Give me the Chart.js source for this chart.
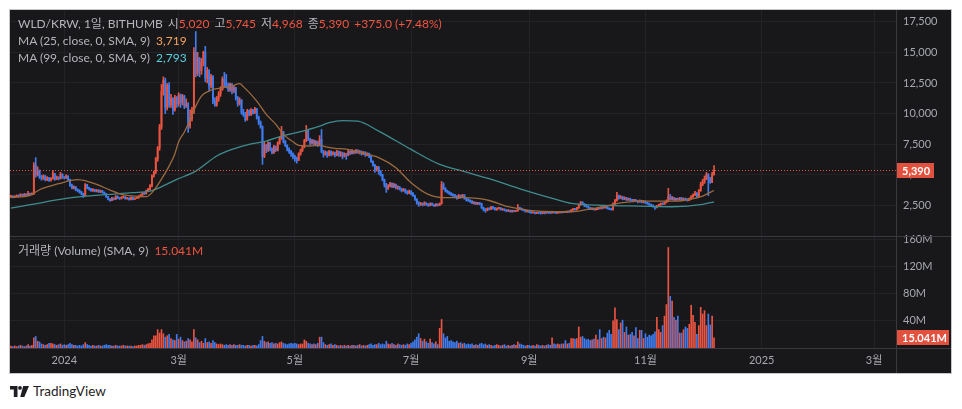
<!DOCTYPE html>
<html>
<head>
<meta charset="utf-8">
<script src="https://cdn.jsdelivr.net/npm/chart.js@4.4.1/dist/chart.umd.min.js"></script>
<style>
  body { margin: 0; background: #fff; width: 962px; height: 409px; overflow: hidden; font-family: Lato, 'Noto Sans CJK KR', sans-serif; }
  #frame { position: absolute; left: 9px; top: 9px; width: 941px; height: 363px; border: 1px solid #c6c6c8; background: #18181b; }
  #c { position: absolute; left: 0; top: 0; }
  .lg { position: absolute; left: 8px; font-size: 12px; line-height: 16px; color: #b4b5ba; white-space: nowrap; }
  .lg b { font-weight: normal; margin-left: 5px; }
  .r { color: #f0553f; }
  .o { color: #f7a35c; }
  .c { color: #5ad2e2; }
  #tv { position: absolute; left: 10px; top: 383px; font-size: 13.5px; color: #1e1e24; display: flex; align-items: center; }
  #tv svg { margin-right: 4px; }
</style>
</head>
<body>
<div id="frame">
  <canvas id="c" width="941" height="363"></canvas>
  <div class="lg" style="top:6px">WLD/KRW, 1일, BITHUMB<b>시</b><span class="r">5,020</span><b>고</b><span class="r">5,745</span><b>저</b><span class="r">4,968</span><b>종</b><span class="r">5,390</span><span class="r" style="margin-left:5px">+375.0 (+7.48%)</span></div>
  <div class="lg" style="top:23px">MA (25, close, 0, SMA, 9)<span class="o" style="margin-left:6px">3,719</span></div>
  <div class="lg" style="top:40px">MA (99, close, 0, SMA, 9)<span class="c" style="margin-left:6px">2,793</span></div>
  <div class="lg" style="top:233px">거래량 (Volume) (SMA, 9)<span class="r" style="margin-left:6px">15.041M</span></div>
</div>
<div id="tv">
  <svg width="19" height="11" viewBox="0 0 19 11"><path d="M0 0H7.5V11H3.8V3.6H0Z" fill="#1e1e24"/><circle cx="10" cy="1.9" r="1.9" fill="#1e1e24"/><path d="M13.2 0H19L14.3 11H10.2Z" fill="#1e1e24"/></svg>
  TradingView
</div>
<script>
// WLD/KRW daily candles, Bithumb, 2023-12-04 .. 2024-12-07
const firstOpen = 3200;
const closes = [
  // Dec 2023
  3250,3180,3230,3300,3260,3380,3320,3400,3350,3460,3380,3420,5800,5000,5300,4850,4700,4900,4600,4750,4550,4700,5100,4650,4800,4700,5050,4800,
  // Jan
  4750,4900,4600,4150,3900,4000,3750,3700,3600,3450,3300,4200,3950,3850,3700,3800,3650,3750,3600,3700,3550,3450,3200,3000,2900,3100,3000,3250,3100,3050,3150,
  // Feb
  3200,3050,3100,2980,3150,3000,3080,3120,3250,3350,3500,3450,3700,3800,4100,4900,5200,6300,7200,8900,11800,12700,10500,12300,10700,11200,10300,11300,10800,
  // Mar
  11500,10900,11400,10600,10800,9000,9600,10200,15000,13300,14500,13500,14200,15000,12900,13500,12300,13000,11000,10700,11200,11600,12000,12800,12600,12300,12000,12400,11900,12100,11300,
  // Apr
  10800,11100,10100,9900,9500,10200,9900,10300,10100,10400,9700,9300,8900,6500,7400,7000,7600,7100,6800,7300,7000,7600,8000,8500,7700,7400,7100,6900,6700,6500,
  // May
  6300,6200,6700,7000,7300,7800,8600,7900,7600,7800,7500,7700,7400,7900,6900,6700,6800,6600,6900,6700,6800,6600,6900,6600,6800,6500,6700,6600,6900,6750,6950,
  // Jun
  6800,7000,6850,6900,6700,6850,6600,6750,6500,6100,5800,5400,5600,5300,5000,4600,4200,3900,4100,4300,4050,4200,3950,4000,3850,3700,3800,3600,3500,3650,
  // Jul
  3500,3300,3000,2700,2600,2650,2550,2700,2600,2500,2650,2550,2450,2600,2500,2650,4200,3900,3700,3600,3500,3400,3350,3250,3100,3300,3200,3350,3100,3000,2900,
  // Aug
  2850,2700,2750,2600,2700,2650,2300,2150,2100,2250,2200,2350,2300,2150,2250,2300,2150,2200,2100,2050,2100,2000,2080,2020,2050,2300,2250,2150,2100,2000,2050,
  // Sep
  1950,1900,1920,1850,1900,1880,1850,1900,1870,1920,1900,1880,1950,1920,1880,1900,1950,1920,1970,1940,2000,1980,2100,2200,2150,2300,2550,2750,2600,2450,
  // Oct
  2400,2300,2200,2250,2150,2200,2300,2250,2350,2300,2400,2250,2200,2150,2600,2900,3300,3100,3200,3000,3150,2950,3050,2950,2900,2950,2850,2800,2900,2750,2850,
  // Nov
  2700,2650,2550,2500,2400,2350,2450,2550,2650,2600,2750,2850,3200,3000,3100,2950,3050,3000,3100,2950,3050,3000,2900,3050,3200,3350,3500,3250,3700,4200,
  // Dec 2024
  4400,4700,5000,4700,4400,5020,5390
];
const highs = [
  3320,3290,3280,3360,3350,3460,3420,3480,3450,3650,3500,3520,6000,6400,5650,5400,4950,5000,4950,4850,4800,4780,5360,5120,4900,4850,5200,5080,
  4850,5000,4920,4650,4250,4100,4050,3850,3780,3650,3500,4290,4220,4000,3900,3880,3820,3800,3780,3750,3720,3600,3480,3250,3050,3150,3120,3300,3270,3150,3220,
  3280,3230,3150,3120,3200,3180,3120,3200,3300,3400,3560,3560,3750,3900,4200,5000,5300,6420,7310,9120,12380,13000,12900,12450,12540,11570,11300,11500,11400,
  11700,11600,11570,11500,11200,10900,10300,10500,15400,16700,15000,14600,14500,15100,15490,13770,13600,13200,13100,11300,11400,11800,12200,13000,13360,13200,12500,12500,12450,12300,12150,
  11400,11300,11150,10340,10100,10350,10300,10400,10350,10500,10420,9800,9400,9000,7730,7500,7700,7650,7200,7400,7350,7700,8100,8950,8550,7800,7450,7200,7000,6800,
  6600,6450,6800,7100,7400,7900,9030,8650,8000,7900,7850,7800,7750,8200,8700,7000,6950,6900,7000,6950,6900,6850,7000,6950,6900,6850,6800,6750,7000,6950,7050,
  7000,7070,7050,6980,6950,6900,6880,6800,6780,6550,6150,5850,5700,5690,5350,5050,4650,4300,4200,4380,4350,4300,4250,4100,4050,3900,3900,3850,3700,3750,
  3700,3550,3350,3050,2800,2750,2700,2800,2720,2650,2700,2700,2600,2650,2620,2700,4460,4350,3950,3750,3650,3550,3450,3400,3300,3400,3350,3400,3380,3150,3050,
  2950,2900,2800,2780,2750,2720,2680,2350,2250,2300,2300,2420,2400,2320,2300,2350,2320,2250,2220,2150,2150,2120,2120,2100,2100,2580,2350,2280,2200,2150,2100,
  2080,2000,1980,1950,1930,1950,1920,1940,1920,1960,1950,1930,2000,1980,1950,1950,2000,1980,2020,2000,2050,2050,2150,2250,2250,2350,2600,2830,2800,2650,
  2550,2450,2350,2300,2280,2250,2350,2350,2400,2380,2450,2420,2300,2250,2700,3000,3560,3350,3300,3250,3200,3150,3100,3100,3000,3000,2980,2900,2950,2920,2900,
  2870,2750,2700,2600,2550,2450,2500,2600,2700,2700,2800,2950,3890,3400,3250,3150,3100,3100,3150,3150,3100,3100,3050,3100,3300,3450,3640,3550,3800,4400,
  4620,4900,5190,5100,4800,5200,5745
];
const lows = [
  3150,3120,3140,3200,3190,3240,3260,3290,3300,3320,3330,3350,3400,4800,4900,4700,4550,4620,4500,4520,4460,4480,4650,4550,4600,4580,4650,4700,
  4650,4700,4500,4050,3850,3850,3700,3600,3500,3350,3150,3280,3850,3750,3650,3650,3600,3600,3550,3550,3500,3400,3150,2950,2830,2880,2950,2980,3050,2980,3020,
  3100,3000,3000,2920,2950,2950,2980,3050,3080,3200,3300,3380,3420,3650,3750,4000,4800,5100,6100,7000,8700,11500,10000,10300,10500,10500,9930,10200,10500,
  10600,10500,10700,10400,10500,8460,8800,9400,10000,13000,13100,13000,13200,13900,12600,12500,11820,12100,10800,10590,10600,11000,11400,11900,12130,12100,11800,11800,11600,11700,11100,
  10600,10700,9950,9770,9360,9450,9800,9850,9950,10000,9550,9100,8800,5850,6400,6800,6900,6950,6700,6750,6900,6950,7500,7900,7600,7300,6950,6750,6500,6300,
  6100,5950,6150,6600,6900,7200,7700,7800,7450,7500,7400,7400,7300,7350,6800,6450,6600,6420,6550,6550,6600,6450,6550,6500,6500,6300,6450,6260,6550,6650,6700,
  6700,6750,6750,6700,6600,6650,6500,6550,6400,6000,5700,5200,5300,5030,4900,4500,4000,3560,3800,4000,3950,3950,3850,3810,3750,3600,3650,3500,3400,3450,
  3350,3240,2900,2600,2420,2500,2450,2500,2500,2420,2450,2480,2420,2430,2450,2480,2600,3800,3600,3500,3400,3300,3240,3150,3000,3050,3100,3150,3000,2850,2830,
  2750,2650,2600,2580,2580,2550,2250,2050,1930,2050,2120,2150,2200,2100,2100,2200,2100,2100,2050,1980,2000,1950,1950,1970,1990,2030,2150,2100,2050,1950,1950,
  1900,1850,1860,1800,1820,1830,1780,1820,1800,1850,1850,1820,1860,1870,1830,1850,1880,1870,1900,1900,1920,1940,1960,2080,2100,2120,2250,2500,2550,2400,
  2350,2250,2150,2150,2100,2100,2150,2200,2200,2250,2280,2200,2150,2100,2120,2550,2850,3000,3050,2950,2980,2900,2900,2850,2830,2850,2800,2700,2750,2700,2700,
  2650,2580,2500,2420,2350,2170,2300,2420,2500,2550,2580,2700,2800,2950,2950,2900,2900,2920,2950,2900,2900,2950,2850,2880,3000,3150,3300,3150,3200,3650,
  4100,4300,4600,3300,4300,4350,4968
];
// volume in millions of WLD
const volumes = [
  3,2,3,2,3,4,3,2,3,5,3,4,15,17,10,9,6,5,4,5,7,7,6,5,4,5,6,4,
  5,4,5,7,5,4,4,3,4,3,5,8,5,4,3,4,3,3,4,3,3,4,5,4,4,3,3,4,3,3,3,
  4,3,3,3,3,2,3,3,4,4,5,4,5,6,7,12,18,18,27,22,27,21,16,18,20,14,12,11,20,
  13,16,11,9,10,14,12,9,27,15,12,8,10,7,14,8,9,7,11,8,6,5,6,5,4,5,4,5,4,5,4,
  4,5,4,4,3,4,4,3,4,4,3,5,11,17,10,8,9,7,8,6,7,6,8,9,7,6,5,6,7,6,
  7,6,5,6,6,12,10,7,6,5,6,5,7,16,16,8,5,4,5,6,4,5,4,3,4,3,4,3,4,3,4,
  4,3,4,5,3,4,3,4,5,6,4,5,5,7,5,6,5,10,6,5,7,5,4,6,5,4,5,4,6,5,
  7,9,12,16,21,14,10,13,9,7,13,8,6,9,5,29,42,21,15,17,10,11,9,8,10,7,8,6,7,5,6,
  5,6,4,5,4,6,7,5,6,4,5,4,3,4,5,4,3,4,5,3,4,3,4,5,4,9,6,5,4,3,4,
  4,3,4,3,5,4,3,4,3,4,5,4,15,6,5,6,5,6,6,11,6,7,14,14,13,14,31,16,17,14,
  12,13,11,12,13,19,12,27,14,16,15,22,26,20,40,59,42,27,37,41,23,31,19,20,23,18,30,14,26,26,14,
  21,16,19,18,20,24,45,27,23,33,47,64,148,76,69,45,41,47,22,22,27,31,29,35,63,48,38,20,33,60,
  50,55,33,50,34,47,15.041
];
// moving averages: [day index, value]
const ma25Points = [[0,3150],[10,3320],[15,3780],[25,4270],[35,4600],[40,4470],[45,4220],[52,3750],[58,3400],[65,3260],[71,3210],[74,3540],[78,4400],[83,5710],[86,6700],[88,7700],[91,8500],[94,9500],[97,10610],[100,11430],[105,11920],[111,12110],[116,12250],[120,12440],[122,12200],[129,11020],[134,9930],[139,9120],[143,8300],[148,7700],[151,7400],[157,7350],[162,7400],[166,7260],[170,7160],[176,7100],[184,6800],[193,6400],[202,5580],[210,4350],[219,3400],[228,3130],[237,3130],[246,3050],[251,2900],[261,2390],[272,2090],[286,1980],[294,1980],[303,2170],[312,2440],[321,2720],[330,2850],[339,2850],[349,2850],[356,2990],[363,3260],[369,3719]];
const ma99Points = [[0,2280],[11,2580],[29,3070],[46,3340],[64,3540],[73,3670],[78,3950],[87,4620],[97,5300],[108,6530],[116,7070],[125,7480],[134,7750],[142,8160],[151,8490],[162,8980],[167,9260],[174,9430],[182,9380],[193,8570],[210,7070],[225,5850],[237,5300],[251,4680],[268,3810],[286,2990],[294,2660],[312,2500],[330,2440],[347,2390],[363,2580],[369,2793]];
const timeTicks = { '2024-01-01': '2024', '2024-03-01': '3월', '2024-05-01': '5월', '2024-07-01': '7월', '2024-09-01': '9월', '2024-11-01': '11월', '2025-01-01': '2025', '2025-03-01': '3월' };
const priceTicks = [2500, 5000, 7500, 10000, 12500, 15000, 17500];
const volTicks = [40, 80, 120, 160];
const priceRange = [0, 18460];
const volRange = [0, 165];

const RED = '#ec5442', BLUE = '#3e7cf0';
const GRID = '#232327', LINE = '#38383d', TXT = '#a7a9b0';

// one category per calendar day, axis runs on into March 2025
const days = [];
const t0 = Date.UTC(2023, 11, 4);
for (let i = 0; i < 465; i++) days.push(new Date(t0 + i * 864e5).toISOString().slice(0, 10));

const opens = closes.map((c, i) => i === 0 ? firstOpen : closes[i - 1]);
const colors = closes.map((c, i) => c >= opens[i] ? RED : BLUE);
const spread = pts => {
  const arr = new Array(closes.length).fill(null);
  pts.forEach(([d, v]) => { arr[d] = v; });
  return arr;
};
const lastPrice = closes[closes.length - 1];
const lastVol = volumes[volumes.length - 1];

Chart.defaults.font.family = "Lato, 'Noto Sans CJK KR', sans-serif";
Chart.defaults.font.size = 11;

// no edge padding for axis labels, so the panes fill the frame exactly
const noPad = axis => { axis.paddingTop = 0; axis.paddingBottom = 0; axis.paddingLeft = 0; axis.paddingRight = 0; };

const overlay = {
  id: 'overlay',
  afterDraw(chart) {
    const { ctx, chartArea: a, scales: { y, y2 } } = chart;
    const W = chart.width, H = chart.height;
    const seg = (x1, y1, x2, y2_) => { ctx.beginPath(); ctx.moveTo(x1, y1); ctx.lineTo(x2, y2_); ctx.stroke(); };
    ctx.save();
    ctx.lineWidth = 1;
    ctx.strokeStyle = LINE;
    seg(0, Math.round(y2.top) + 0.5, W, Math.round(y2.top) + 0.5);
    seg(0, Math.round(a.bottom) + 0.5, W, Math.round(a.bottom) + 0.5);
    seg(Math.round(a.right) + 0.5, 0, Math.round(a.right) + 0.5, H);

    const py = Math.round(y.getPixelForValue(lastPrice)) + 0.5;
    ctx.strokeStyle = RED;
    ctx.setLineDash([1, 2]);
    seg(a.left, py, a.right, py);
    ctx.setLineDash([]);

    const badge = (cy, text, w) => {
      ctx.fillStyle = '#e2513e';
      ctx.fillRect(a.right + 1, Math.round(cy - 7.5), w, 15);
      ctx.fillStyle = '#fff';
      ctx.font = "bold 11px Lato, sans-serif";
      ctx.textBaseline = 'middle';
      ctx.textAlign = 'left';
      ctx.fillText(text, a.right + 6, Math.round(cy) + 0.5);
    };
    badge(py, lastPrice.toLocaleString('en-US'), 37);
    badge(y2.getPixelForValue(lastVol), lastVol.toFixed(3) + 'M', 52);
    ctx.restore();
  }
};

new Chart(document.getElementById('c'), {
  type: 'bar',
  data: {
    labels: days,
    datasets: [
      { type: 'line', data: spread(ma25Points), borderColor: '#9c6a3f', borderWidth: 1.3, pointRadius: 0, spanGaps: true, cubicInterpolationMode: 'monotone', yAxisID: 'y', order: 0 },
      { type: 'line', data: spread(ma99Points), borderColor: '#3f8b8d', borderWidth: 1.3, pointRadius: 0, spanGaps: true, cubicInterpolationMode: 'monotone', yAxisID: 'y', order: 0 },
      { data: lows.map((l, i) => [l, highs[i]]), backgroundColor: colors, barThickness: 1, grouped: false, yAxisID: 'y', order: 2 },
      { data: opens.map((o, i) => [o, closes[i]]), backgroundColor: colors, barThickness: 1.2, minBarLength: 1, grouped: false, yAxisID: 'y', order: 1 },
      { data: volumes, backgroundColor: colors, barThickness: 1, grouped: false, yAxisID: 'y2', order: 1 }
    ]
  },
  options: {
    responsive: false,
    animation: false,
    devicePixelRatio: 1,
    layout: { padding: 0 },
    plugins: { legend: { display: false }, tooltip: { enabled: false } },
    scales: {
      x: {
        type: 'category',
        offset: true,
        grid: { color: GRID, offset: false, drawTicks: false },
        border: { display: false },
        ticks: {
          autoSkip: false, maxRotation: 0, color: TXT, padding: 6,
          callback: v => timeTicks[days[v]] || ''
        },
        afterBuildTicks: axis => { axis.ticks = axis.ticks.filter(t => timeTicks[days[t.value]]); },
        afterFit: axis => { axis.height = 25; noPad(axis); }
      },
      y: {
        position: 'right', stack: 'panes', stackWeight: 226,
        min: priceRange[0], max: priceRange[1],
        grid: { color: GRID, drawTicks: false },
        border: { display: false },
        ticks: { color: TXT, padding: 7, callback: v => v.toLocaleString('en-US') },
        afterBuildTicks: axis => { axis.ticks = priceTicks.map(v => ({ value: v })); },
        afterFit: axis => { axis.width = 55; noPad(axis); }
      },
      y2: {
        position: 'right', stack: 'panes', stackWeight: 112,
        min: volRange[0], max: volRange[1],
        grid: { color: GRID, drawTicks: false },
        border: { display: false },
        ticks: { color: TXT, padding: 7, callback: v => v + 'M' },
        afterBuildTicks: axis => { axis.ticks = volTicks.map(v => ({ value: v })); },
        afterFit: axis => { axis.width = 55; noPad(axis); }
      }
    }
  },
  plugins: [overlay]
});
</script>
</body>
</html>
